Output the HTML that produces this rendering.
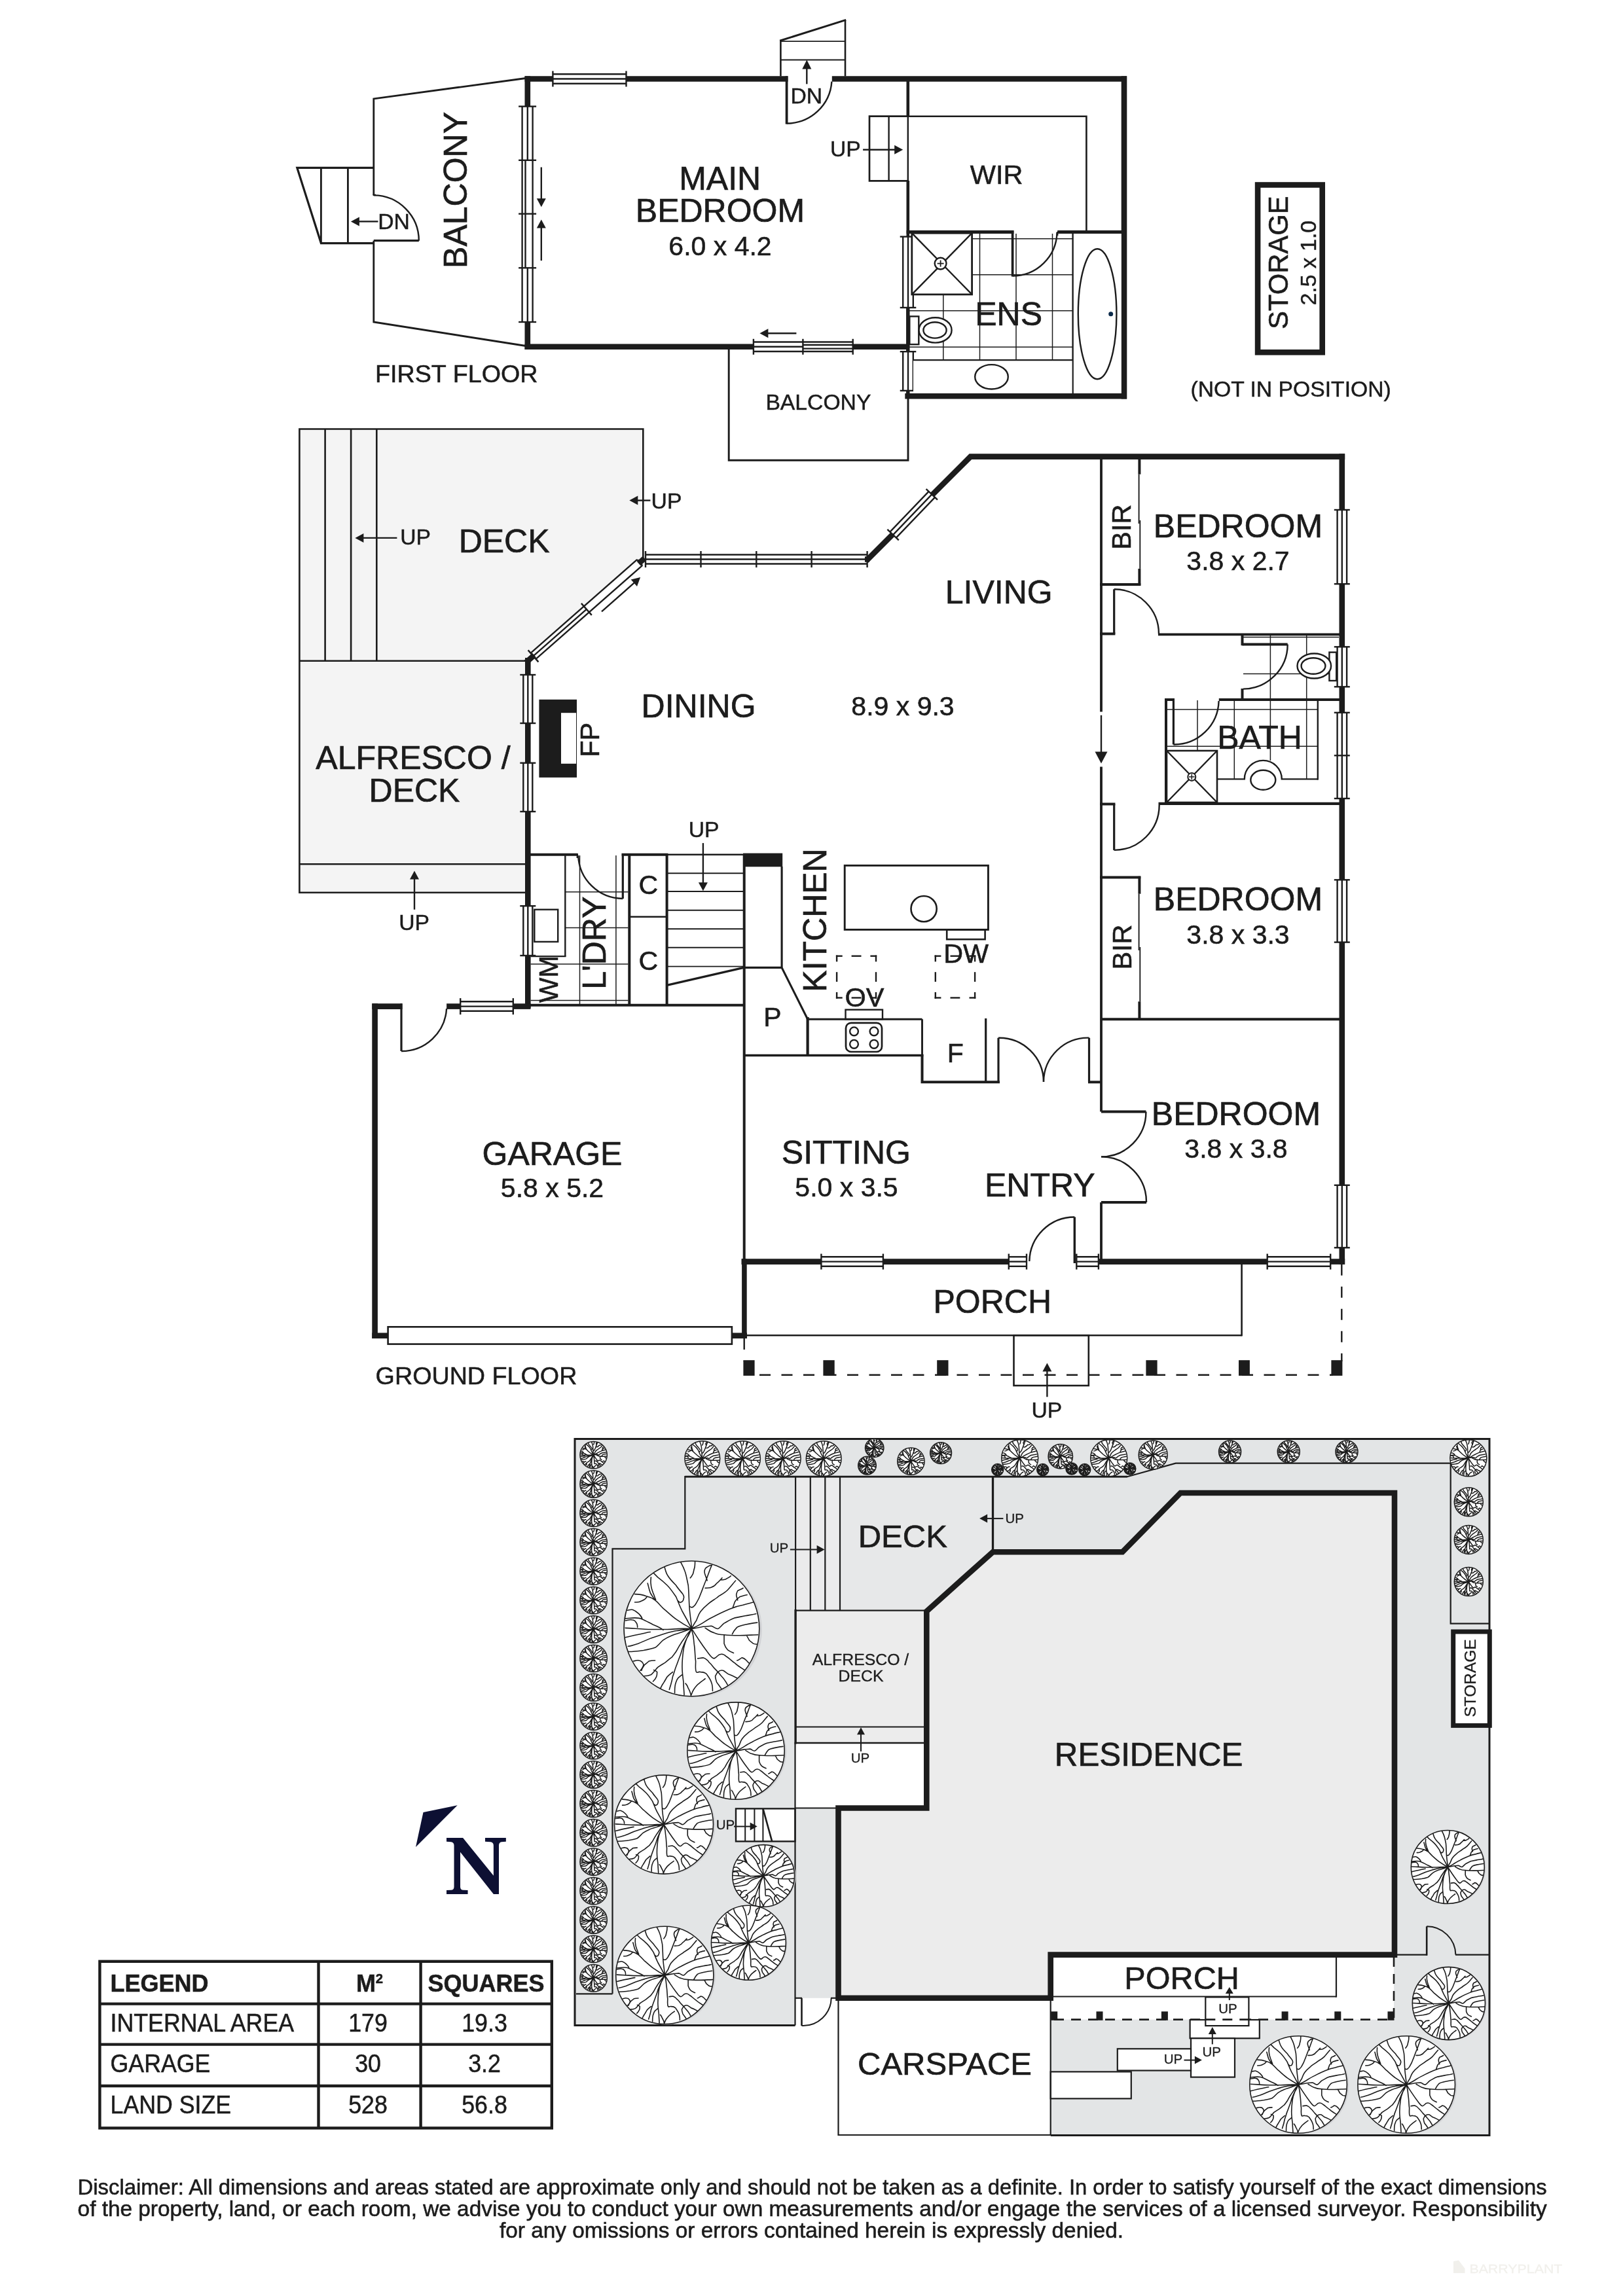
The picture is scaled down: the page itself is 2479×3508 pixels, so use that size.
<!DOCTYPE html>
<html><head><meta charset="utf-8"><title>Floor plan</title>
<style>
html,body{margin:0;padding:0;background:#fff}
svg{display:block}
text{font-family:"Liberation Sans",sans-serif}
</style></head><body>
<svg width="2479" height="3508" viewBox="0 0 2479 3508" stroke="#1c1c1c" fill="none">
<rect width="2479" height="3508" fill="#fff" stroke="none"/>
<defs><g id="tr"><circle cx="4" cy="1.5" r="100" fill="#d2d3d6" stroke="none"/><circle r="100" fill="#fff" stroke-width="1.6" vector-effect="non-scaling-stroke"/><path d="M0,0C-0,-5 -2,-17 -3,-28C-4,-39 -4,-54 -5,-64C-7,-73 -8,-80 -10,-85C-12,-91 -15,-96 -16,-98M-3,-33C-2,-32 -0,-31 2,-32C3,-33 5,-34 7,-38C9,-41 12,-47 14,-53C16,-58 18,-64 21,-71C24,-78 28,-91 30,-94M-2,-75C-1,-76 1,-79 2,-81C3,-84 3,-86 4,-89C5,-92 5,-97 5,-99M0,0C-2,-4 -10,-19 -14,-26C-18,-34 -20,-40 -23,-47C-27,-53 -31,-59 -36,-64C-40,-68 -46,-73 -50,-76C-53,-79 -55,-81 -56,-82M-40,-91C-39,-88 -38,-82 -35,-78C-32,-73 -27,-68 -23,-64C-20,-59 -15,-54 -13,-51C-11,-48 -11,-46 -12,-44C-12,-42 -14,-39 -16,-39C-17,-38 -19,-40 -20,-41M-65,-67C-64,-64 -63,-58 -61,-53C-59,-49 -55,-44 -54,-42M-60,-76C-60,-74 -61,-69 -60,-65C-60,-61 -58,-56 -57,-53C-55,-49 -54,-44 -53,-43M0,0C-4,-2 -16,-9 -23,-14C-30,-19 -37,-26 -42,-30C-47,-35 -50,-39 -54,-42C-58,-45 -62,-47 -67,-48C-72,-50 -81,-51 -84,-51M-84,-39C-83,-39 -78,-39 -76,-40C-74,-41 -71,-42 -70,-43C-68,-44 -67,-46 -66,-47M0,0C-2,0 -8,0 -14,0C-20,0 -28,1 -36,1C-43,1 -50,1 -60,1C-71,1 -91,-1 -98,-1M-42,2C-44,0 -52,-4 -57,-6C-63,-9 -68,-12 -73,-14C-77,-16 -80,-16 -84,-16C-88,-16 -96,-15 -98,-15M-98,-12C-96,-12 -91,-14 -88,-13C-85,-13 -83,-11 -82,-9C-80,-7 -80,-3 -80,-2M-95,-27C-94,-27 -89,-29 -87,-28C-84,-27 -80,-24 -78,-22C-75,-19 -73,-15 -73,-14M0,0C-4,1 -15,2 -22,3C-29,4 -35,6 -42,8C-48,10 -54,12 -60,14C-67,17 -74,20 -79,22C-85,24 -91,26 -94,26M-61,5C-64,5 -70,7 -76,8C-82,9 -94,12 -98,13M0,0C-2,1 -9,3 -14,5C-19,7 -25,8 -29,10C-34,12 -38,14 -42,17C-46,20 -49,25 -54,28C-59,30 -65,31 -71,32C-78,33 -89,34 -93,34M0,0C-1,2 -5,6 -8,10C-10,14 -14,18 -16,22C-19,26 -21,31 -23,34C-25,37 -27,39 -29,42C-32,44 -35,47 -39,50C-42,52 -46,54 -50,57C-53,60 -57,66 -60,68C-64,70 -68,70 -70,70M-86,48C-85,48 -80,46 -78,47C-75,47 -72,50 -71,53C-71,56 -75,61 -76,62M-54,47C-56,47 -60,47 -63,48C-65,50 -68,52 -70,54C-72,57 -74,61 -74,62M-56,61C-55,62 -52,62 -51,64C-51,65 -51,69 -52,71C-53,74 -56,77 -57,78M0,0C-1,2 -4,10 -7,14C-9,18 -10,20 -12,25C-14,29 -15,35 -17,40C-19,45 -21,51 -23,56C-25,61 -26,66 -28,71C-29,77 -32,87 -33,90M0,0C-1,2 -5,9 -7,14C-9,19 -11,24 -12,31C-13,38 -14,48 -14,56C-14,64 -13,72 -12,79C-12,86 -11,95 -11,98M-28,64C-29,65 -33,68 -36,71C-38,74 -40,78 -42,81C-44,83 -45,87 -46,88M-14,68C-15,69 -18,71 -20,73C-22,75 -23,79 -24,82C-25,86 -25,93 -25,95M0,0C0,2 1,5 2,9C3,13 3,18 4,25C5,31 5,42 6,48C6,55 5,61 7,64C8,66 10,63 13,64C15,64 19,64 22,67C24,70 28,75 29,79C31,83 31,90 31,92M9,44C11,44 14,43 17,43C20,44 24,47 26,50C29,52 31,56 34,59C37,62 40,65 43,69C47,73 52,81 53,83M-9,81C-8,82 -6,85 -5,88C-3,91 -1,97 -1,99M20,74C19,75 14,78 11,81C8,83 5,87 3,90C1,93 -0,97 -1,99M0,0C2,3 7,11 11,17C15,23 20,30 23,34C27,39 29,43 33,44C36,44 39,38 42,38C45,37 48,38 51,41C55,43 59,48 64,51C68,55 75,59 78,61M35,70C36,69 37,65 39,64C41,62 44,61 47,62C49,63 51,65 54,67C58,68 65,72 67,73M35,70C35,71 36,76 37,79C39,82 43,87 44,89M67,47C69,47 72,44 74,43C77,43 79,45 81,47C82,48 84,51 85,51M0,0C3,-0 12,-2 17,-3C22,-3 26,-4 29,-4C33,-3 36,1 39,0C42,-1 44,-5 48,-8C52,-10 58,-14 64,-16C69,-17 74,-18 79,-19C84,-20 93,-21 95,-22M20,-1C22,0 28,5 33,6C37,8 42,9 48,9C55,10 63,10 71,10C80,10 93,9 98,9M48,9C48,11 48,18 48,22C49,25 51,29 53,31C55,33 60,35 62,36M60,8C61,6 64,1 67,-2C70,-4 74,-5 79,-6C84,-7 94,-9 97,-9M81,10C82,11 84,15 85,17C87,19 90,21 91,22C93,23 96,23 96,23M0,0C2,-1 9,-4 14,-7C19,-10 26,-15 33,-18C40,-22 49,-26 56,-29C63,-32 70,-34 76,-35C82,-37 88,-38 91,-39M61,-32C62,-33 63,-38 64,-40C66,-43 68,-45 71,-47C74,-48 80,-50 82,-50M76,-60C75,-59 70,-57 68,-56C67,-54 66,-52 66,-50C66,-47 68,-43 68,-42M0,0C1,-2 4,-8 7,-12C9,-17 10,-21 13,-25C16,-29 20,-33 25,-37C29,-41 36,-44 40,-48C45,-51 49,-53 53,-57C57,-61 63,-69 65,-71M20,-60C22,-60 27,-60 29,-61C32,-62 35,-64 37,-67C40,-69 44,-74 45,-75M42,-72C43,-72 47,-72 50,-73C52,-74 57,-77 58,-78M30,-94C29,-94 25,-93 23,-91C21,-90 19,-87 19,-84C19,-80 23,-73 23,-71" stroke-width="1.6" vector-effect="non-scaling-stroke" fill="none" stroke-linecap="round"/></g>
<g id="sh"><circle r="100" fill="#fff" stroke-width="1.5" vector-effect="non-scaling-stroke"/><path d="M0,0C-0,-5 -2,-17 -3,-28C-4,-39 -4,-54 -5,-64C-7,-73 -8,-80 -10,-85C-12,-91 -15,-96 -16,-98M-3,-33C-2,-32 -0,-31 2,-32C3,-33 5,-34 7,-38C9,-41 12,-47 14,-53C16,-58 18,-64 21,-71C24,-78 28,-91 30,-94M-2,-75C-1,-76 1,-79 2,-81C3,-84 3,-86 4,-89C5,-92 5,-97 5,-99M0,0C-2,-4 -10,-19 -14,-26C-18,-34 -20,-40 -23,-47C-27,-53 -31,-59 -36,-64C-40,-68 -46,-73 -50,-76C-53,-79 -55,-81 -56,-82M-40,-91C-39,-88 -38,-82 -35,-78C-32,-73 -27,-68 -23,-64C-20,-59 -15,-54 -13,-51C-11,-48 -11,-46 -12,-44C-12,-42 -14,-39 -16,-39C-17,-38 -19,-40 -20,-41M-65,-67C-64,-64 -63,-58 -61,-53C-59,-49 -55,-44 -54,-42M-60,-76C-60,-74 -61,-69 -60,-65C-60,-61 -58,-56 -57,-53C-55,-49 -54,-44 -53,-43M0,0C-4,-2 -16,-9 -23,-14C-30,-19 -37,-26 -42,-30C-47,-35 -50,-39 -54,-42C-58,-45 -62,-47 -67,-48C-72,-50 -81,-51 -84,-51M-84,-39C-83,-39 -78,-39 -76,-40C-74,-41 -71,-42 -70,-43C-68,-44 -67,-46 -66,-47M0,0C-2,0 -8,0 -14,0C-20,0 -28,1 -36,1C-43,1 -50,1 -60,1C-71,1 -91,-1 -98,-1M-42,2C-44,0 -52,-4 -57,-6C-63,-9 -68,-12 -73,-14C-77,-16 -80,-16 -84,-16C-88,-16 -96,-15 -98,-15M-98,-12C-96,-12 -91,-14 -88,-13C-85,-13 -83,-11 -82,-9C-80,-7 -80,-3 -80,-2M-95,-27C-94,-27 -89,-29 -87,-28C-84,-27 -80,-24 -78,-22C-75,-19 -73,-15 -73,-14M0,0C-4,1 -15,2 -22,3C-29,4 -35,6 -42,8C-48,10 -54,12 -60,14C-67,17 -74,20 -79,22C-85,24 -91,26 -94,26M-61,5C-64,5 -70,7 -76,8C-82,9 -94,12 -98,13M0,0C-2,1 -9,3 -14,5C-19,7 -25,8 -29,10C-34,12 -38,14 -42,17C-46,20 -49,25 -54,28C-59,30 -65,31 -71,32C-78,33 -89,34 -93,34M0,0C-1,2 -5,6 -8,10C-10,14 -14,18 -16,22C-19,26 -21,31 -23,34C-25,37 -27,39 -29,42C-32,44 -35,47 -39,50C-42,52 -46,54 -50,57C-53,60 -57,66 -60,68C-64,70 -68,70 -70,70M-86,48C-85,48 -80,46 -78,47C-75,47 -72,50 -71,53C-71,56 -75,61 -76,62M-54,47C-56,47 -60,47 -63,48C-65,50 -68,52 -70,54C-72,57 -74,61 -74,62M-56,61C-55,62 -52,62 -51,64C-51,65 -51,69 -52,71C-53,74 -56,77 -57,78M0,0C-1,2 -4,10 -7,14C-9,18 -10,20 -12,25C-14,29 -15,35 -17,40C-19,45 -21,51 -23,56C-25,61 -26,66 -28,71C-29,77 -32,87 -33,90M0,0C-1,2 -5,9 -7,14C-9,19 -11,24 -12,31C-13,38 -14,48 -14,56C-14,64 -13,72 -12,79C-12,86 -11,95 -11,98M-28,64C-29,65 -33,68 -36,71C-38,74 -40,78 -42,81C-44,83 -45,87 -46,88M-14,68C-15,69 -18,71 -20,73C-22,75 -23,79 -24,82C-25,86 -25,93 -25,95M0,0C0,2 1,5 2,9C3,13 3,18 4,25C5,31 5,42 6,48C6,55 5,61 7,64C8,66 10,63 13,64C15,64 19,64 22,67C24,70 28,75 29,79C31,83 31,90 31,92M9,44C11,44 14,43 17,43C20,44 24,47 26,50C29,52 31,56 34,59C37,62 40,65 43,69C47,73 52,81 53,83M-9,81C-8,82 -6,85 -5,88C-3,91 -1,97 -1,99M20,74C19,75 14,78 11,81C8,83 5,87 3,90C1,93 -0,97 -1,99M0,0C2,3 7,11 11,17C15,23 20,30 23,34C27,39 29,43 33,44C36,44 39,38 42,38C45,37 48,38 51,41C55,43 59,48 64,51C68,55 75,59 78,61M35,70C36,69 37,65 39,64C41,62 44,61 47,62C49,63 51,65 54,67C58,68 65,72 67,73M35,70C35,71 36,76 37,79C39,82 43,87 44,89M67,47C69,47 72,44 74,43C77,43 79,45 81,47C82,48 84,51 85,51M0,0C3,-0 12,-2 17,-3C22,-3 26,-4 29,-4C33,-3 36,1 39,0C42,-1 44,-5 48,-8C52,-10 58,-14 64,-16C69,-17 74,-18 79,-19C84,-20 93,-21 95,-22M20,-1C22,0 28,5 33,6C37,8 42,9 48,9C55,10 63,10 71,10C80,10 93,9 98,9M48,9C48,11 48,18 48,22C49,25 51,29 53,31C55,33 60,35 62,36M60,8C61,6 64,1 67,-2C70,-4 74,-5 79,-6C84,-7 94,-9 97,-9M81,10C82,11 84,15 85,17C87,19 90,21 91,22C93,23 96,23 96,23M0,0C2,-1 9,-4 14,-7C19,-10 26,-15 33,-18C40,-22 49,-26 56,-29C63,-32 70,-34 76,-35C82,-37 88,-38 91,-39M61,-32C62,-33 63,-38 64,-40C66,-43 68,-45 71,-47C74,-48 80,-50 82,-50M76,-60C75,-59 70,-57 68,-56C67,-54 66,-52 66,-50C66,-47 68,-43 68,-42M0,0C1,-2 4,-8 7,-12C9,-17 10,-21 13,-25C16,-29 20,-33 25,-37C29,-41 36,-44 40,-48C45,-51 49,-53 53,-57C57,-61 63,-69 65,-71M20,-60C22,-60 27,-60 29,-61C32,-62 35,-64 37,-67C40,-69 44,-74 45,-75M42,-72C43,-72 47,-72 50,-73C52,-74 57,-77 58,-78M30,-94C29,-94 25,-93 23,-91C21,-90 19,-87 19,-84C19,-80 23,-73 23,-71" stroke-width="1.5" vector-effect="non-scaling-stroke" fill="none"/></g></defs>
<filter id="nf" x="0" y="0" width="2479" height="3508" filterUnits="userSpaceOnUse" color-interpolation-filters="sRGB"><feOffset dx="0" dy="0"/></filter>
<g filter="url(#nf)">
<g id="first">
<path d="M803,119.5 L570.8,150.9 L570.8,297.9" stroke-width="2.8" fill="none" stroke-linejoin="miter"/>
<path d="M570.8,367.7 L570.8,492 L803,528.5" stroke-width="2.8" fill="none" stroke-linejoin="miter"/>
<path d="M570.8,256.3 L453.8,256.3 L490.4,371.6 L570.8,371.6" stroke-width="3.2" fill="none" stroke-linejoin="miter"/>
<line x1="490.4" y1="256.3" x2="490.4" y2="371.6" stroke-width="2.8"/>
<line x1="531.4" y1="256.3" x2="531.4" y2="371.6" stroke-width="2.8"/>
<line x1="570.8" y1="367.7" x2="639.8" y2="367.7" stroke-width="3.2"/>
<path d="M570.8,298.4 A69.3,69.3 0 0 1 639.8,367.7" stroke-width="2.4" fill="none"/>
<line x1="569.6" y1="297.9" x2="574" y2="297.9" stroke-width="2.4"/>
<line x1="577.5" y1="338.4" x2="547.9" y2="338.4" stroke-width="2.4"/>
<path d="M535.9,338.4 L548.9,331.4 L548.9,345.4 Z" fill="#1c1c1c" stroke="none"/>
<text x="601.6" y="349.6" font-size="33.7" text-anchor="middle" style="fill:#1c1c1c;stroke:#1c1c1c;stroke-width:0.47px">DN</text>
<text x="713.3" y="290.4" font-size="50" text-anchor="middle" transform="rotate(-90 713.3 290.4)" style="fill:#1c1c1c;stroke:#1c1c1c;stroke-width:0.70px">BALCONY</text>
<line x1="801.6" y1="120.5" x2="844.4" y2="120.5" stroke-width="8.6"/>
<line x1="956.5" y1="120.5" x2="1203.5" y2="120.5" stroke-width="8.6"/>
<line x1="1270.8" y1="120.5" x2="1721" y2="120.5" stroke-width="8.6"/>
<rect x="844.4" y="113.2" width="112.1" height="14.5" fill="#fff" stroke="none"/>
<line x1="844.4" y1="113.2" x2="956.5" y2="113.2" stroke-width="2.4"/>
<line x1="844.4" y1="127.8" x2="956.5" y2="127.8" stroke-width="2.4"/>
<line x1="844.4" y1="120.5" x2="956.5" y2="120.5" stroke-width="2.4"/>
<line x1="844.4" y1="108.5" x2="844.4" y2="132.5" stroke-width="2.4"/>
<line x1="956.5" y1="108.5" x2="956.5" y2="132.5" stroke-width="2.4"/>
<line x1="805.8" y1="116.3" x2="805.8" y2="162.6" stroke-width="8.6"/>
<line x1="805.8" y1="492" x2="805.8" y2="534" stroke-width="8.6"/>
<rect x="797.6" y="162.6" width="16" height="329.4" fill="#fff" stroke="none"/>
<line x1="797.6" y1="162.6" x2="797.6" y2="492" stroke-width="2.4"/>
<line x1="813.6" y1="162.6" x2="813.6" y2="492" stroke-width="2.4"/>
<line x1="792.1" y1="162.6" x2="819.1" y2="162.6" stroke-width="2.4"/>
<line x1="792.1" y1="244.8" x2="819.1" y2="244.8" stroke-width="2.4"/>
<line x1="792.1" y1="326.7" x2="819.1" y2="326.7" stroke-width="2.4"/>
<line x1="792.1" y1="409.3" x2="819.1" y2="409.3" stroke-width="2.4"/>
<line x1="792.1" y1="492" x2="819.1" y2="492" stroke-width="2.4"/>
<line x1="805.8" y1="162.6" x2="805.8" y2="244.8" stroke-width="2.4"/>
<line x1="805.8" y1="409.3" x2="805.8" y2="492" stroke-width="2.4"/>
<line x1="802.5" y1="244.8" x2="802.5" y2="409.3" stroke-width="2.4"/>
<line x1="826.8" y1="255.5" x2="826.8" y2="304.2" stroke-width="2.4"/>
<path d="M826.8,316.2 L819.8,303.2 L833.8,303.2 Z" fill="#1c1c1c" stroke="none"/>
<line x1="826.8" y1="398.2" x2="826.8" y2="347.6" stroke-width="2.4"/>
<path d="M826.8,335.6 L833.8,348.6 L819.8,348.6 Z" fill="#1c1c1c" stroke="none"/>
<line x1="801.6" y1="529.8" x2="1150.9" y2="529.8" stroke-width="8.6"/>
<line x1="1302.7" y1="529.8" x2="1389" y2="529.8" stroke-width="8.6"/>
<rect x="1150.9" y="522.5" width="151.8" height="14.5" fill="#fff" stroke="none"/>
<line x1="1150.9" y1="522.5" x2="1302.7" y2="522.5" stroke-width="2.4"/>
<line x1="1150.9" y1="537" x2="1302.7" y2="537" stroke-width="2.4"/>
<line x1="1150.9" y1="517.8" x2="1150.9" y2="541.8" stroke-width="2.4"/>
<line x1="1226.4" y1="517.8" x2="1226.4" y2="541.8" stroke-width="2.4"/>
<line x1="1302.7" y1="517.8" x2="1302.7" y2="541.8" stroke-width="2.4"/>
<line x1="1150.9" y1="529.8" x2="1226.4" y2="529.8" stroke-width="2.4"/>
<line x1="1226.4" y1="527" x2="1302.7" y2="527" stroke-width="2.4"/>
<line x1="1226.4" y1="532.6" x2="1302.7" y2="532.6" stroke-width="2.4"/>
<line x1="1216.4" y1="509.3" x2="1172.4" y2="509.3" stroke-width="2.4"/>
<path d="M1160.4,509.3 L1173.4,502.3 L1173.4,516.3 Z" fill="#1c1c1c" stroke="none"/>
<line x1="1717" y1="116.3" x2="1717" y2="609.6" stroke-width="8.6"/>
<line x1="1382.3" y1="605.3" x2="1721" y2="605.3" stroke-width="8.6"/>
<line x1="1386.8" y1="124" x2="1386.8" y2="178" stroke-width="4.6"/>
<line x1="1386.8" y1="177" x2="1386.8" y2="277" stroke-width="2.4"/>
<line x1="1386.8" y1="276" x2="1386.8" y2="361.6" stroke-width="4.6"/>
<line x1="1386.8" y1="470" x2="1386.8" y2="537.2" stroke-width="5.5"/>
<line x1="1386.8" y1="596.9" x2="1386.8" y2="609" stroke-width="5.5"/>
<rect x="1379.2" y="361.6" width="15.5" height="108.4" fill="#fff" stroke="none"/>
<line x1="1379.2" y1="361.6" x2="1379.2" y2="470" stroke-width="2.4"/>
<line x1="1394.8" y1="361.6" x2="1394.8" y2="470" stroke-width="2.4"/>
<line x1="1387" y1="361.6" x2="1387" y2="470" stroke-width="2.4"/>
<line x1="1374.7" y1="361.6" x2="1399.3" y2="361.6" stroke-width="2.4"/>
<line x1="1374.7" y1="470" x2="1399.3" y2="470" stroke-width="2.4"/>
<rect x="1379.2" y="537.2" width="15.5" height="59.7" fill="#fff" stroke="none"/>
<line x1="1379.2" y1="537.2" x2="1379.2" y2="596.9" stroke-width="2.4"/>
<line x1="1394.8" y1="537.2" x2="1394.8" y2="596.9" stroke-width="2.4"/>
<line x1="1387" y1="537.2" x2="1387" y2="596.9" stroke-width="2.4"/>
<line x1="1374.7" y1="537.2" x2="1399.3" y2="537.2" stroke-width="2.4"/>
<line x1="1374.7" y1="596.9" x2="1399.3" y2="596.9" stroke-width="2.4"/>
<line x1="1192.4" y1="62" x2="1192.4" y2="116.5" stroke-width="2.6"/>
<line x1="1291" y1="31" x2="1291" y2="116.5" stroke-width="2.6"/>
<line x1="1191.2" y1="62.3" x2="1292.2" y2="30.4" stroke-width="3"/>
<line x1="1192.4" y1="63.1" x2="1291" y2="63.1" stroke-width="1.9"/>
<line x1="1192.4" y1="91.5" x2="1291" y2="91.5" stroke-width="1.9"/>
<line x1="1201.6" y1="116.3" x2="1201.6" y2="189.6" stroke-width="3.8"/>
<path d="M1201.6,188.5 A68.5,68.5 0 0 0 1270.4,124.7" stroke-width="2.4" fill="none"/>
<line x1="1232.3" y1="128.4" x2="1232.3" y2="104.5" stroke-width="2.4"/>
<path d="M1232.3,91.5 L1239.3,105.5 L1225.3,105.5 Z" fill="#1c1c1c" stroke="none"/>
<text x="1231.8" y="157.6" font-size="33.7" text-anchor="middle" style="fill:#1c1c1c;stroke:#1c1c1c;stroke-width:0.47px">DN</text>
<path d="M1386.8,177.7 L1328,177.7 L1328,276.3 L1386.8,276.3" stroke-width="2.7" fill="none" stroke-linejoin="miter"/>
<line x1="1357.6" y1="177.7" x2="1357.6" y2="276.3" stroke-width="2.4"/>
<text x="1291.4" y="239.3" font-size="33.7" text-anchor="middle" style="fill:#1c1c1c;stroke:#1c1c1c;stroke-width:0.47px">UP</text>
<line x1="1318.1" y1="228.7" x2="1367.2" y2="228.7" stroke-width="2.4"/>
<path d="M1379.2,228.7 L1366.2,235.7 L1366.2,221.7 Z" fill="#1c1c1c" stroke="none"/>
<path d="M1386.8,177.7 L1659.4,177.7 L1659.4,353" stroke-width="2.6" fill="none" stroke-linejoin="miter"/>
<text x="1522.2" y="280.7" font-size="41.5" text-anchor="middle" style="fill:#1c1c1c;stroke:#1c1c1c;stroke-width:0.58px">WIR</text>
<line x1="1384.6" y1="354.6" x2="1548.4" y2="354.6" stroke-width="5"/>
<line x1="1615.2" y1="354.6" x2="1713.5" y2="354.6" stroke-width="5"/>
<line x1="1546.6" y1="352.2" x2="1546.6" y2="422.5" stroke-width="3.7"/>
<path d="M1546.6,421.5 A67.9,67.9 0 0 0 1614.5,355" stroke-width="2.4" fill="none"/>
<line x1="1615.2" y1="354" x2="1615.2" y2="360" stroke-width="2.4"/>
<line x1="1440.8" y1="449.9" x2="1440.8" y2="550.1" stroke-width="1.5"/>
<line x1="1496.5" y1="357" x2="1496.5" y2="550.1" stroke-width="1.5"/>
<line x1="1552" y1="357" x2="1552" y2="550.1" stroke-width="1.5"/>
<line x1="1607.5" y1="357" x2="1607.5" y2="550.1" stroke-width="1.5"/>
<line x1="1484.6" y1="364.7" x2="1638.6" y2="364.7" stroke-width="1.5"/>
<line x1="1484.6" y1="419.7" x2="1638.6" y2="419.7" stroke-width="1.5"/>
<line x1="1389" y1="474.7" x2="1638.6" y2="474.7" stroke-width="1.5"/>
<line x1="1389" y1="530.2" x2="1638.6" y2="530.2" stroke-width="1.5"/>
<rect x="1392.8" y="356.2" width="91.8" height="93.7" stroke-width="2.8" fill="#fff"/>
<line x1="1392.8" y1="356.2" x2="1484.6" y2="449.9" stroke-width="2.4"/>
<line x1="1392.8" y1="449.9" x2="1484.6" y2="356.2" stroke-width="2.4"/>
<circle cx="1436.6" cy="402.6" r="8.9" stroke-width="2.4" fill="#fff"/>
<line x1="1431.6" y1="402.6" x2="1441.6" y2="402.6" stroke-width="1.8"/>
<line x1="1436.6" y1="397.6" x2="1436.6" y2="407.6" stroke-width="1.8"/>
<line x1="1638.6" y1="357" x2="1638.6" y2="601" stroke-width="2.4"/>
<rect x="1640" y="357.5" width="72.5" height="243.5" fill="#fff" stroke="none"/>
<ellipse cx="1676.1" cy="479.8" rx="29.3" ry="99.5" stroke-width="2.4" fill="#fff"/>
<circle cx="1696.7" cy="479.8" r="3.5" fill="#0b2a4a" stroke="none"/>
<rect x="1395" y="551" width="242.4" height="50" fill="#fff" stroke="none"/>
<line x1="1394.7" y1="550.1" x2="1638.6" y2="550.1" stroke-width="2.4"/>
<ellipse cx="1514.5" cy="575.8" rx="25.3" ry="18.7" stroke-width="2.4" fill="#fff"/>
<rect x="1389.3" y="483.4" width="14" height="42.8" stroke-width="2.4" fill="#fff"/>
<ellipse cx="1428.6" cy="504.4" rx="25" ry="19.2" stroke-width="2.4" fill="#fff"/>
<ellipse cx="1428" cy="504.4" rx="17.6" ry="12.2" stroke-width="2.4" fill="#fff"/>
<text x="1540.6" y="496.7" font-size="50" text-anchor="middle" style="fill:#1c1c1c;stroke:#1c1c1c;stroke-width:0.70px">ENS</text>
<path d="M1113.2,534 L1113.2,703.3 L1387,703.3 L1387,609" stroke-width="2.9" fill="none" stroke-linejoin="miter"/>
<text x="1249.9" y="625.8" font-size="33.7" text-anchor="middle" style="fill:#1c1c1c;stroke:#1c1c1c;stroke-width:0.47px">BALCONY</text>
<text x="573" y="584" font-size="37.7" style="fill:#1c1c1c;stroke:#1c1c1c;stroke-width:0.53px">FIRST FLOOR</text>
<text x="1099.7" y="289.9" font-size="50" text-anchor="middle" style="fill:#1c1c1c;stroke:#1c1c1c;stroke-width:0.70px">MAIN</text>
<text x="1100" y="339.2" font-size="50" text-anchor="middle" style="fill:#1c1c1c;stroke:#1c1c1c;stroke-width:0.70px">BEDROOM</text>
<text x="1100" y="389.7" font-size="41" text-anchor="middle" style="fill:#1c1c1c;stroke:#1c1c1c;stroke-width:0.57px">6.0 x 4.2</text>
<rect x="1921.1" y="282.5" width="98.6" height="255.8" stroke-width="8.6" fill="#fff"/>
<text x="1967.3" y="401.2" font-size="41.8" text-anchor="middle" transform="rotate(-90 1967.3 401.2)" style="fill:#1c1c1c;stroke:#1c1c1c;stroke-width:0.59px">STORAGE</text>
<text x="2009.7" y="401.7" font-size="33.8" text-anchor="middle" transform="rotate(-90 2009.7 401.7)" style="fill:#1c1c1c;stroke:#1c1c1c;stroke-width:0.47px">2.5 x 1.0</text>
<text x="1971.6" y="606" font-size="33.7" text-anchor="middle" style="fill:#1c1c1c;stroke:#1c1c1c;stroke-width:0.47px">(NOT IN POSITION)</text>
</g>
<g id="ground">
<path d="M457.4,655.5 L982.3,655.5 L982.3,852.6 L806,1009.7 L806,1363.8 L457.4,1363.8 Z" stroke-width="2.6" fill="#f4f4f4" stroke-linejoin="miter"/>
<line x1="496.6" y1="655.5" x2="496.6" y2="1009.7" stroke-width="2.6"/>
<line x1="536.1" y1="655.5" x2="536.1" y2="1009.7" stroke-width="2.6"/>
<line x1="575.3" y1="655.5" x2="575.3" y2="1009.7" stroke-width="2.6"/>
<line x1="457.4" y1="1009.7" x2="806" y2="1009.7" stroke-width="2.6"/>
<line x1="457.4" y1="1320.2" x2="806" y2="1320.2" stroke-width="2.6"/>
<text x="770.1" y="844.4" font-size="50" text-anchor="middle" style="fill:#1c1c1c;stroke:#1c1c1c;stroke-width:0.70px">DECK</text>
<text x="634.6" y="832" font-size="33.7" text-anchor="middle" style="fill:#1c1c1c;stroke:#1c1c1c;stroke-width:0.47px">UP</text>
<line x1="606.4" y1="821.9" x2="554.4" y2="821.9" stroke-width="2.4"/>
<path d="M542.4,821.9 L555.4,814.9 L555.4,828.9 Z" fill="#1c1c1c" stroke="none"/>
<text x="1018" y="776.5" font-size="33.7" text-anchor="middle" style="fill:#1c1c1c;stroke:#1c1c1c;stroke-width:0.47px">UP</text>
<line x1="993.4" y1="764.6" x2="973.3" y2="764.6" stroke-width="2.4"/>
<path d="M961.3,764.6 L974.3,757.6 L974.3,771.6 Z" fill="#1c1c1c" stroke="none"/>
<text x="631" y="1175.3" font-size="50" text-anchor="middle" style="fill:#1c1c1c;stroke:#1c1c1c;stroke-width:0.70px">ALFRESCO /</text>
<text x="633" y="1225.2" font-size="50" text-anchor="middle" style="fill:#1c1c1c;stroke:#1c1c1c;stroke-width:0.70px">DECK</text>
<text x="632.6" y="1421.1" font-size="33.7" text-anchor="middle" style="fill:#1c1c1c;stroke:#1c1c1c;stroke-width:0.47px">UP</text>
<line x1="633" y1="1389.7" x2="633" y2="1342.6" stroke-width="2.4"/>
<path d="M633,1330.6 L640,1343.6 L626,1343.6 Z" fill="#1c1c1c" stroke="none"/>
<line x1="806.3" y1="1005" x2="806.3" y2="1031" stroke-width="8.6"/>
<line x1="806.3" y1="1105" x2="806.3" y2="1165.7" stroke-width="8.6"/>
<line x1="806.3" y1="1240" x2="806.3" y2="1384.2" stroke-width="8.6"/>
<line x1="806.3" y1="1460" x2="806.3" y2="1540" stroke-width="8.6"/>
<rect x="799.3" y="1031" width="14" height="74" fill="#fff" stroke="none"/>
<line x1="799.3" y1="1031" x2="799.3" y2="1105" stroke-width="2.4"/>
<line x1="813.3" y1="1031" x2="813.3" y2="1105" stroke-width="2.4"/>
<line x1="806.3" y1="1031" x2="806.3" y2="1105" stroke-width="2.4"/>
<line x1="794.3" y1="1031" x2="818.3" y2="1031" stroke-width="2.4"/>
<line x1="794.3" y1="1105" x2="818.3" y2="1105" stroke-width="2.4"/>
<rect x="799.3" y="1165.7" width="14" height="74.3" fill="#fff" stroke="none"/>
<line x1="799.3" y1="1165.7" x2="799.3" y2="1240" stroke-width="2.4"/>
<line x1="813.3" y1="1165.7" x2="813.3" y2="1240" stroke-width="2.4"/>
<line x1="806.3" y1="1165.7" x2="806.3" y2="1240" stroke-width="2.4"/>
<line x1="794.3" y1="1165.7" x2="818.3" y2="1165.7" stroke-width="2.4"/>
<line x1="794.3" y1="1240" x2="818.3" y2="1240" stroke-width="2.4"/>
<rect x="799.3" y="1384.2" width="14" height="75.8" fill="#fff" stroke="none"/>
<line x1="799.3" y1="1384.2" x2="799.3" y2="1460" stroke-width="2.4"/>
<line x1="813.3" y1="1384.2" x2="813.3" y2="1460" stroke-width="2.4"/>
<line x1="806.3" y1="1384.2" x2="806.3" y2="1460" stroke-width="2.4"/>
<line x1="794.3" y1="1384.2" x2="818.3" y2="1384.2" stroke-width="2.4"/>
<line x1="794.3" y1="1460" x2="818.3" y2="1460" stroke-width="2.4"/>
<path d="M818.5,1006.9 L981.2,863.9 L973.2,854.9 L810.5,997.9 Z" fill="#fff" stroke="none"/>
<line x1="818.5" y1="1006.9" x2="981.2" y2="863.9" stroke-width="2.4"/>
<line x1="810.5" y1="997.9" x2="973.2" y2="854.9" stroke-width="2.4"/>
<line x1="822.4" y1="1011.4" x2="806.6" y2="993.4" stroke-width="2.4"/>
<line x1="903.8" y1="939.9" x2="887.9" y2="921.9" stroke-width="2.4"/>
<line x1="973.3" y1="855" x2="981.2" y2="864" stroke-width="2.4"/>
<line x1="814.5" y1="1002.4" x2="895.3" y2="931.4" stroke-width="2.4"/>
<line x1="803" y1="1012.5" x2="816" y2="1001" stroke-width="8.6"/>
<line x1="975.5" y1="861" x2="984.5" y2="853" stroke-width="8.6"/>
<line x1="919" y1="934.4" x2="969.1" y2="890.1" stroke-width="2.4"/>
<path d="M978.1,882.1 L973,896 L963.7,885.5 Z" fill="#1c1c1c" stroke="none"/>
<rect x="986" y="847.5" width="338.6" height="14" fill="#fff" stroke="none"/>
<line x1="986" y1="847.5" x2="1324.6" y2="847.5" stroke-width="2.4"/>
<line x1="986" y1="861.5" x2="1324.6" y2="861.5" stroke-width="2.4"/>
<line x1="986" y1="854.5" x2="1324.6" y2="854.5" stroke-width="2.4"/>
<line x1="986" y1="842" x2="986" y2="867" stroke-width="2.4"/>
<line x1="1070.5" y1="842" x2="1070.5" y2="867" stroke-width="2.4"/>
<line x1="1155.3" y1="842" x2="1155.3" y2="867" stroke-width="2.4"/>
<line x1="1239.6" y1="842" x2="1239.6" y2="867" stroke-width="2.4"/>
<line x1="1324.6" y1="842" x2="1324.6" y2="867" stroke-width="2.4"/>
<path d="M1323,857 L1482.4,697.6 L2054.2,697.6" stroke-width="8.6" fill="none" stroke-linejoin="miter"/>
<line x1="1321" y1="854.5" x2="1328" y2="854.5" stroke-width="8.6"/>
<path d="M1368.8,821.6 L1428,759.9 L1418.6,750.9 L1359.4,812.6 Z" fill="#fff" stroke="none"/>
<line x1="1368.8" y1="821.6" x2="1428" y2="759.9" stroke-width="2.4"/>
<line x1="1359.4" y1="812.6" x2="1418.6" y2="750.9" stroke-width="2.4"/>
<line x1="1364.1" y1="817.1" x2="1423.3" y2="755.4" stroke-width="2.4"/>
<line x1="1372.8" y1="825.4" x2="1355.4" y2="808.8" stroke-width="2.4"/>
<line x1="1432" y1="763.7" x2="1414.6" y2="747.1" stroke-width="2.4"/>
<line x1="2049.8" y1="693.3" x2="2049.8" y2="779" stroke-width="8.6"/>
<line x1="2049.8" y1="892.2" x2="2049.8" y2="988.3" stroke-width="8.6"/>
<line x1="2049.8" y1="1049.3" x2="2049.8" y2="1088.8" stroke-width="8.6"/>
<line x1="2049.8" y1="1220" x2="2049.8" y2="1344.3" stroke-width="8.6"/>
<line x1="2049.8" y1="1439.6" x2="2049.8" y2="1810.8" stroke-width="8.6"/>
<line x1="2049.8" y1="1906.3" x2="2049.8" y2="1931.8" stroke-width="8.6"/>
<rect x="2042.6" y="779" width="14.5" height="113.2" fill="#fff" stroke="none"/>
<line x1="2042.6" y1="779" x2="2042.6" y2="892.2" stroke-width="2.4"/>
<line x1="2057.1" y1="779" x2="2057.1" y2="892.2" stroke-width="2.4"/>
<line x1="2049.8" y1="779" x2="2049.8" y2="892.2" stroke-width="2.4"/>
<line x1="2037.8" y1="779" x2="2061.8" y2="779" stroke-width="2.4"/>
<line x1="2037.8" y1="892.2" x2="2061.8" y2="892.2" stroke-width="2.4"/>
<rect x="2042.6" y="988.3" width="14.5" height="61" fill="#fff" stroke="none"/>
<line x1="2042.6" y1="988.3" x2="2042.6" y2="1049.3" stroke-width="2.4"/>
<line x1="2057.1" y1="988.3" x2="2057.1" y2="1049.3" stroke-width="2.4"/>
<line x1="2049.8" y1="988.3" x2="2049.8" y2="1049.3" stroke-width="2.4"/>
<line x1="2037.8" y1="988.3" x2="2061.8" y2="988.3" stroke-width="2.4"/>
<line x1="2037.8" y1="1049.3" x2="2061.8" y2="1049.3" stroke-width="2.4"/>
<rect x="2042.6" y="1088.8" width="14.5" height="131.2" fill="#fff" stroke="none"/>
<line x1="2042.6" y1="1088.8" x2="2042.6" y2="1220" stroke-width="2.4"/>
<line x1="2057.1" y1="1088.8" x2="2057.1" y2="1220" stroke-width="2.4"/>
<line x1="2049.8" y1="1088.8" x2="2049.8" y2="1220" stroke-width="2.4"/>
<line x1="2037.8" y1="1088.8" x2="2061.8" y2="1088.8" stroke-width="2.4"/>
<line x1="2037.8" y1="1154.3" x2="2061.8" y2="1154.3" stroke-width="2.4"/>
<line x1="2037.8" y1="1220" x2="2061.8" y2="1220" stroke-width="2.4"/>
<rect x="2042.6" y="1344.3" width="14.5" height="95.3" fill="#fff" stroke="none"/>
<line x1="2042.6" y1="1344.3" x2="2042.6" y2="1439.6" stroke-width="2.4"/>
<line x1="2057.1" y1="1344.3" x2="2057.1" y2="1439.6" stroke-width="2.4"/>
<line x1="2049.8" y1="1344.3" x2="2049.8" y2="1439.6" stroke-width="2.4"/>
<line x1="2037.8" y1="1344.3" x2="2061.8" y2="1344.3" stroke-width="2.4"/>
<line x1="2037.8" y1="1439.6" x2="2061.8" y2="1439.6" stroke-width="2.4"/>
<rect x="2042.6" y="1810.8" width="14.5" height="95.5" fill="#fff" stroke="none"/>
<line x1="2042.6" y1="1810.8" x2="2042.6" y2="1906.3" stroke-width="2.4"/>
<line x1="2057.1" y1="1810.8" x2="2057.1" y2="1906.3" stroke-width="2.4"/>
<line x1="2049.8" y1="1810.8" x2="2049.8" y2="1906.3" stroke-width="2.4"/>
<line x1="2037.8" y1="1810.8" x2="2061.8" y2="1810.8" stroke-width="2.4"/>
<line x1="2037.8" y1="1906.3" x2="2061.8" y2="1906.3" stroke-width="2.4"/>
<line x1="1132.5" y1="1927.6" x2="1254.4" y2="1927.6" stroke-width="8.6"/>
<line x1="1348.9" y1="1927.6" x2="1540.8" y2="1927.6" stroke-width="8.6"/>
<line x1="1677.9" y1="1927.6" x2="1935.7" y2="1927.6" stroke-width="8.6"/>
<line x1="2032.2" y1="1927.6" x2="2054.2" y2="1927.6" stroke-width="8.6"/>
<rect x="1254.4" y="1920.3" width="94.5" height="14.5" fill="#fff" stroke="none"/>
<line x1="1254.4" y1="1920.3" x2="1348.9" y2="1920.3" stroke-width="2.4"/>
<line x1="1254.4" y1="1934.8" x2="1348.9" y2="1934.8" stroke-width="2.4"/>
<line x1="1254.4" y1="1927.6" x2="1348.9" y2="1927.6" stroke-width="2.4"/>
<line x1="1254.4" y1="1915.6" x2="1254.4" y2="1939.6" stroke-width="2.4"/>
<line x1="1348.9" y1="1915.6" x2="1348.9" y2="1939.6" stroke-width="2.4"/>
<rect x="1935.7" y="1920.3" width="96.5" height="14.5" fill="#fff" stroke="none"/>
<line x1="1935.7" y1="1920.3" x2="2032.2" y2="1920.3" stroke-width="2.4"/>
<line x1="1935.7" y1="1934.8" x2="2032.2" y2="1934.8" stroke-width="2.4"/>
<line x1="1935.7" y1="1927.6" x2="2032.2" y2="1927.6" stroke-width="2.4"/>
<line x1="1935.7" y1="1915.6" x2="1935.7" y2="1939.6" stroke-width="2.4"/>
<line x1="2032.2" y1="1915.6" x2="2032.2" y2="1939.6" stroke-width="2.4"/>
<rect x="1540.8" y="1920.3" width="27.2" height="14.5" fill="#fff" stroke="none"/>
<line x1="1540.8" y1="1920.3" x2="1568" y2="1920.3" stroke-width="2.4"/>
<line x1="1540.8" y1="1934.8" x2="1568" y2="1934.8" stroke-width="2.4"/>
<line x1="1540.8" y1="1927.6" x2="1568" y2="1927.6" stroke-width="2.4"/>
<line x1="1540.8" y1="1915.6" x2="1540.8" y2="1939.6" stroke-width="2.4"/>
<line x1="1568" y1="1915.6" x2="1568" y2="1939.6" stroke-width="2.4"/>
<rect x="1644.3" y="1920.3" width="33.6" height="14.5" fill="#fff" stroke="none"/>
<line x1="1644.3" y1="1920.3" x2="1677.9" y2="1920.3" stroke-width="2.4"/>
<line x1="1644.3" y1="1934.8" x2="1677.9" y2="1934.8" stroke-width="2.4"/>
<line x1="1644.3" y1="1927.6" x2="1677.9" y2="1927.6" stroke-width="2.4"/>
<line x1="1644.3" y1="1915.6" x2="1644.3" y2="1939.6" stroke-width="2.4"/>
<line x1="1677.9" y1="1915.6" x2="1677.9" y2="1939.6" stroke-width="2.4"/>
<line x1="1641.3" y1="1859.5" x2="1641.3" y2="1930" stroke-width="3.4"/>
<path d="M1641.3,1859.5 A69,69 0 0 0 1572.3,1927" stroke-width="2.4" fill="none"/>
<line x1="572.6" y1="1533.3" x2="572.6" y2="2045" stroke-width="8.6"/>
<line x1="568.3" y1="1537.6" x2="614.5" y2="1537.6" stroke-width="8.6"/>
<line x1="682.1" y1="1537.6" x2="703.2" y2="1537.6" stroke-width="8.6"/>
<line x1="783.8" y1="1537.6" x2="810.5" y2="1537.6" stroke-width="8.6"/>
<rect x="703.2" y="1530.3" width="80.6" height="14.5" fill="#fff" stroke="none"/>
<line x1="703.2" y1="1530.3" x2="783.8" y2="1530.3" stroke-width="2.4"/>
<line x1="703.2" y1="1544.8" x2="783.8" y2="1544.8" stroke-width="2.4"/>
<line x1="703.2" y1="1537.6" x2="783.8" y2="1537.6" stroke-width="2.4"/>
<line x1="703.2" y1="1525.1" x2="703.2" y2="1550.1" stroke-width="2.4"/>
<line x1="783.8" y1="1525.1" x2="783.8" y2="1550.1" stroke-width="2.4"/>
<line x1="613" y1="1533.3" x2="613" y2="1606" stroke-width="3.2"/>
<path d="M613,1606 A69,69 0 0 0 682.1,1541" stroke-width="2.4" fill="none"/>
<line x1="568.3" y1="2040.7" x2="592.6" y2="2040.7" stroke-width="8.6"/>
<line x1="1117.9" y1="2040.7" x2="1141" y2="2040.7" stroke-width="8.6"/>
<rect x="592.6" y="2027.3" width="525.3" height="26.3" stroke-width="2.6" fill="#fff"/>
<line x1="1136.7" y1="1305" x2="1136.7" y2="1926" stroke-width="4"/>
<line x1="1136.9" y1="1923.4" x2="1136.9" y2="2045" stroke-width="7.6"/>
<line x1="810" y1="1535.7" x2="1138" y2="1535.7" stroke-width="4"/>
<line x1="809.7" y1="1305.8" x2="881.8" y2="1305.8" stroke-width="4"/>
<line x1="949.6" y1="1305.8" x2="1020" y2="1305.8" stroke-width="4"/>
<line x1="1018" y1="1305.8" x2="1136" y2="1305.8" stroke-width="2.4"/>
<line x1="881.8" y1="1304" x2="881.8" y2="1311" stroke-width="2.4"/>
<line x1="951.3" y1="1304" x2="951.3" y2="1373" stroke-width="3.2"/>
<path d="M951.3,1373 A68.4,68.4 0 0 1 883.2,1307" stroke-width="2.4" fill="none"/>
<line x1="961.3" y1="1304" x2="961.3" y2="1537" stroke-width="4"/>
<line x1="1018.6" y1="1304" x2="1018.6" y2="1537" stroke-width="4"/>
<line x1="885.5" y1="1307" x2="885.5" y2="1534" stroke-width="1.5"/>
<line x1="940.9" y1="1307" x2="940.9" y2="1534" stroke-width="1.5"/>
<line x1="863.3" y1="1362.7" x2="959.5" y2="1362.7" stroke-width="1.5"/>
<line x1="863.3" y1="1417.4" x2="959.5" y2="1417.4" stroke-width="1.5"/>
<line x1="810.5" y1="1472.9" x2="959.5" y2="1472.9" stroke-width="1.5"/>
<line x1="810.5" y1="1528.4" x2="959.5" y2="1528.4" stroke-width="1.5"/>
<line x1="863.3" y1="1307" x2="863.3" y2="1461.1" stroke-width="2.4"/>
<line x1="810.5" y1="1461.1" x2="864.5" y2="1461.1" stroke-width="2.4"/>
<rect x="816.3" y="1389.7" width="35.9" height="49.2" stroke-width="2.4" fill="#fff"/>
<text x="852.2" y="1496" font-size="40.5" text-anchor="middle" transform="rotate(-90 852.2 1496)" style="fill:#1c1c1c;stroke:#1c1c1c;stroke-width:0.57px">WM</text>
<text x="925.4" y="1440.7" font-size="50" text-anchor="middle" transform="rotate(-90 925.4 1440.7)" style="fill:#1c1c1c;stroke:#1c1c1c;stroke-width:0.70px">L'DRY</text>
<text x="990.3" y="1365.5" font-size="41" text-anchor="middle" style="fill:#1c1c1c;stroke:#1c1c1c;stroke-width:0.57px">C</text>
<text x="990.3" y="1482" font-size="41" text-anchor="middle" style="fill:#1c1c1c;stroke:#1c1c1c;stroke-width:0.57px">C</text>
<line x1="961.3" y1="1400.8" x2="1018.6" y2="1400.8" stroke-width="2.4"/>
<line x1="1018.6" y1="1334.3" x2="1136" y2="1334.3" stroke-width="1.9"/>
<line x1="1018.6" y1="1362" x2="1136" y2="1362" stroke-width="1.9"/>
<line x1="1018.6" y1="1390.8" x2="1136" y2="1390.8" stroke-width="1.9"/>
<line x1="1018.6" y1="1419.3" x2="1136" y2="1419.3" stroke-width="1.9"/>
<line x1="1018.6" y1="1447.8" x2="1136" y2="1447.8" stroke-width="1.9"/>
<line x1="1018.6" y1="1476.6" x2="1136" y2="1476.6" stroke-width="1.9"/>
<line x1="1018.5" y1="1505.4" x2="1136" y2="1478.4" stroke-width="3.2"/>
<text x="1075.2" y="1278.8" font-size="33.7" text-anchor="middle" style="fill:#1c1c1c;stroke:#1c1c1c;stroke-width:0.47px">UP</text>
<line x1="1073.9" y1="1288.1" x2="1073.9" y2="1349.3" stroke-width="2.4"/>
<path d="M1073.9,1361.3 L1066.9,1348.3 L1080.9,1348.3 Z" fill="#1c1c1c" stroke="none"/>
<rect x="1135" y="1303.6" width="60.2" height="20.7" fill="#1c1c1c" stroke="none"/>
<path d="M1194.1,1324 L1194.1,1478.4 L1233.6,1557.2" stroke-width="3.1" fill="none" stroke-linejoin="miter"/>
<line x1="1136" y1="1478.4" x2="1195.2" y2="1478.4" stroke-width="3.1"/>
<line x1="1233.6" y1="1554" x2="1233.6" y2="1613" stroke-width="4.2"/>
<text x="1180" y="1567.6" font-size="41" text-anchor="middle" style="fill:#1c1c1c;stroke:#1c1c1c;stroke-width:0.57px">P</text>
<line x1="1136.8" y1="1612.6" x2="1410.3" y2="1612.6" stroke-width="3.5"/>
<line x1="1233.6" y1="1557.2" x2="1408.5" y2="1557.2" stroke-width="2.9"/>
<line x1="1408.5" y1="1557.2" x2="1408.5" y2="1612.6" stroke-width="2.9"/>
<path d="M1408.5,1611 L1408.5,1653.3 L1527,1653.3" stroke-width="4" fill="none" stroke-linejoin="miter"/>
<line x1="1505.7" y1="1556" x2="1505.7" y2="1653.3" stroke-width="3.2"/>
<text x="1459.3" y="1622.9" font-size="41" text-anchor="middle" style="fill:#1c1c1c;stroke:#1c1c1c;stroke-width:0.57px">F</text>
<rect x="1291.5" y="1542.7" width="56.5" height="14.5" stroke-width="2.4" fill="none"/>
<rect x="1292" y="1562.8" width="55" height="44.2" rx="8" stroke-width="2.7"/>
<circle cx="1304.5" cy="1575.8" r="6.4" stroke-width="2.4" fill="none"/>
<circle cx="1304.5" cy="1595.3" r="6.4" stroke-width="2.4" fill="none"/>
<circle cx="1335" cy="1575.8" r="6.4" stroke-width="2.4" fill="none"/>
<circle cx="1335" cy="1595.3" r="6.4" stroke-width="2.4" fill="none"/>
<line x1="1276.9" y1="1460.7" x2="1286.7" y2="1460.7" stroke-width="2.4"/>
<line x1="1300.6" y1="1460.7" x2="1315.5" y2="1460.7" stroke-width="2.4"/>
<line x1="1329.4" y1="1460.7" x2="1339.2" y2="1460.7" stroke-width="2.4"/>
<line x1="1338" y1="1459.5" x2="1338" y2="1469.3" stroke-width="2.4"/>
<line x1="1338" y1="1485.2" x2="1338" y2="1500" stroke-width="2.4"/>
<line x1="1338" y1="1515.9" x2="1338" y2="1525.7" stroke-width="2.4"/>
<line x1="1339.2" y1="1524.5" x2="1329.4" y2="1524.5" stroke-width="2.4"/>
<line x1="1315.5" y1="1524.5" x2="1300.6" y2="1524.5" stroke-width="2.4"/>
<line x1="1286.7" y1="1524.5" x2="1276.9" y2="1524.5" stroke-width="2.4"/>
<line x1="1278.1" y1="1525.7" x2="1278.1" y2="1515.9" stroke-width="2.4"/>
<line x1="1278.1" y1="1500" x2="1278.1" y2="1485.2" stroke-width="2.4"/>
<line x1="1278.1" y1="1469.3" x2="1278.1" y2="1459.5" stroke-width="2.4"/>
<line x1="1427.6" y1="1460.7" x2="1437.4" y2="1460.7" stroke-width="2.4"/>
<line x1="1451.5" y1="1460.7" x2="1466.3" y2="1460.7" stroke-width="2.4"/>
<line x1="1480.5" y1="1460.7" x2="1490.3" y2="1460.7" stroke-width="2.4"/>
<line x1="1489.1" y1="1459.5" x2="1489.1" y2="1469.3" stroke-width="2.4"/>
<line x1="1489.1" y1="1485.2" x2="1489.1" y2="1500" stroke-width="2.4"/>
<line x1="1489.1" y1="1515.9" x2="1489.1" y2="1525.7" stroke-width="2.4"/>
<line x1="1490.3" y1="1524.5" x2="1480.5" y2="1524.5" stroke-width="2.4"/>
<line x1="1466.3" y1="1524.5" x2="1451.5" y2="1524.5" stroke-width="2.4"/>
<line x1="1437.4" y1="1524.5" x2="1427.6" y2="1524.5" stroke-width="2.4"/>
<line x1="1428.8" y1="1525.7" x2="1428.8" y2="1515.9" stroke-width="2.4"/>
<line x1="1428.8" y1="1500" x2="1428.8" y2="1485.2" stroke-width="2.4"/>
<line x1="1428.8" y1="1469.3" x2="1428.8" y2="1459.5" stroke-width="2.4"/>
<text x="1320.4" y="1538.3" font-size="41.5" text-anchor="middle" style="fill:#1c1c1c;stroke:#1c1c1c;stroke-width:0.58px">OV</text>
<text x="1475.6" y="1470.7" font-size="41.3" text-anchor="middle" style="fill:#1c1c1c;stroke:#1c1c1c;stroke-width:0.58px">DW</text>
<rect x="1290.2" y="1322.4" width="219.2" height="98" stroke-width="2.9" fill="none"/>
<circle cx="1411.1" cy="1388.6" r="19.6" stroke-width="2.6" fill="none"/>
<rect x="1446.2" y="1420.4" width="58.4" height="14.8" stroke-width="2.6" fill="none"/>
<text x="1261.7" y="1406" font-size="50" text-anchor="middle" transform="rotate(-90 1261.7 1406)" style="fill:#1c1c1c;stroke:#1c1c1c;stroke-width:0.70px">KITCHEN</text>
<line x1="1525" y1="1585.7" x2="1525" y2="1653.3" stroke-width="3.2"/>
<path d="M1525,1585.7 A67.7,67.7 0 0 1 1594,1653" stroke-width="2.4" fill="none"/>
<line x1="1663.5" y1="1585.7" x2="1663.5" y2="1653.3" stroke-width="3.2"/>
<path d="M1663.5,1585.7 A67.7,67.7 0 0 0 1594,1653" stroke-width="2.4" fill="none"/>
<line x1="1662" y1="1653.3" x2="1682" y2="1653.3" stroke-width="4"/>
<line x1="1682" y1="701" x2="1682" y2="1087.4" stroke-width="3.8"/>
<line x1="1682" y1="1092.8" x2="1682" y2="1150" stroke-width="2.4"/>
<line x1="1682" y1="1171.4" x2="1682" y2="1698.4" stroke-width="3.8"/>
<line x1="1682" y1="1837" x2="1682" y2="1928" stroke-width="3.8"/>
<path d="M1682,1166.5 L1672.5,1148.4 L1691.5,1148.4 Z" fill="#1c1c1c" stroke="none"/>
<line x1="1680" y1="892.9" x2="1742.3" y2="892.9" stroke-width="4"/>
<line x1="1740.4" y1="701" x2="1740.4" y2="724.7" stroke-width="4"/>
<line x1="1740.4" y1="868.9" x2="1740.4" y2="894.7" stroke-width="4"/>
<line x1="1739.6" y1="724.7" x2="1739.6" y2="800" stroke-width="1.9"/>
<line x1="1741.3" y1="795" x2="1741.3" y2="868.9" stroke-width="1.9"/>
<text x="1727.5" y="805.1" font-size="41.5" text-anchor="middle" transform="rotate(-90 1727.5 805.1)" style="fill:#1c1c1c;stroke:#1c1c1c;stroke-width:0.58px">BIR</text>
<line x1="1680" y1="1340.6" x2="1742.3" y2="1340.6" stroke-width="4"/>
<line x1="1740.4" y1="1338.8" x2="1740.4" y2="1365.7" stroke-width="4"/>
<line x1="1740.4" y1="1530.2" x2="1740.4" y2="1557.2" stroke-width="4"/>
<line x1="1739.6" y1="1365.7" x2="1739.6" y2="1452" stroke-width="1.9"/>
<line x1="1741.3" y1="1447" x2="1741.3" y2="1530.2" stroke-width="1.9"/>
<text x="1727.5" y="1447" font-size="41.5" text-anchor="middle" transform="rotate(-90 1727.5 1447)" style="fill:#1c1c1c;stroke:#1c1c1c;stroke-width:0.58px">BIR</text>
<line x1="1680" y1="968.4" x2="1703.4" y2="968.4" stroke-width="4"/>
<line x1="1701.7" y1="900.3" x2="1701.7" y2="968.4" stroke-width="3.2"/>
<path d="M1701.7,900.3 A68.3,68.3 0 0 1 1770,968.4" stroke-width="2.4" fill="none"/>
<line x1="1769" y1="969.3" x2="2046" y2="969.3" stroke-width="3.8"/>
<line x1="1897.5" y1="969" x2="1897.5" y2="986.2" stroke-width="4"/>
<line x1="1897.5" y1="984.4" x2="1966.7" y2="984.4" stroke-width="4"/>
<path d="M1966.7,984.4 A68.2,68.2 0 0 1 1899,1052.6" stroke-width="2.4" fill="none"/>
<line x1="1897.5" y1="1052" x2="1897.5" y2="1070" stroke-width="4"/>
<line x1="1940.4" y1="971" x2="1940.4" y2="1067" stroke-width="1.5"/>
<line x1="1995.7" y1="971" x2="1995.7" y2="1067" stroke-width="1.5"/>
<line x1="1899" y1="973.5" x2="2045" y2="973.5" stroke-width="1.5"/>
<line x1="1899" y1="1029.6" x2="2030" y2="1029.6" stroke-width="1.5"/>
<rect x="2030.4" y="996.6" width="10.8" height="43.4" stroke-width="2.4" fill="#fff"/>
<ellipse cx="2007.3" cy="1017.5" rx="25.8" ry="19" stroke-width="2.4" fill="#fff"/>
<ellipse cx="2006" cy="1017.5" rx="18.4" ry="12.2" stroke-width="2.4" fill="#fff"/>
<line x1="1861.8" y1="1069" x2="2046" y2="1069" stroke-width="3.8"/>
<line x1="1781" y1="1067.1" x2="1781" y2="1229" stroke-width="4"/>
<line x1="1779.2" y1="1069" x2="1794" y2="1069" stroke-width="4"/>
<line x1="1792.4" y1="1069" x2="1792.4" y2="1137.5" stroke-width="3.2"/>
<path d="M1792.4,1137.5 A68.3,68.3 0 0 0 1861.6,1071" stroke-width="2.4" fill="none"/>
<line x1="1783" y1="1083.9" x2="2012.8" y2="1083.9" stroke-width="1.5"/>
<line x1="1783" y1="1140.3" x2="2012.8" y2="1140.3" stroke-width="1.5"/>
<line x1="1829" y1="1070" x2="1829" y2="1147" stroke-width="1.5"/>
<line x1="1885.3" y1="1070" x2="1885.3" y2="1190.4" stroke-width="1.5"/>
<line x1="1940.4" y1="1070" x2="1940.4" y2="1162" stroke-width="1.5"/>
<line x1="1995.7" y1="1070" x2="1995.7" y2="1190.4" stroke-width="1.5"/>
<line x1="2012.8" y1="1070" x2="2012.8" y2="1191.6" stroke-width="2.4"/>
<path d="M1859,1190.4 L1900.8,1190.4 A28.5,28.5 0 0 1 1957.8,1190.4 L2012.8,1190.4" stroke-width="2.4" fill="none"/>
<ellipse cx="1929.3" cy="1191.8" rx="19" ry="15" stroke-width="2.4" fill="#fff"/>
<rect x="1782" y="1147" width="77" height="79" stroke-width="2.6" fill="#fff"/>
<line x1="1782" y1="1147" x2="1859" y2="1226" stroke-width="2.4"/>
<line x1="1782" y1="1226" x2="1859" y2="1147" stroke-width="2.4"/>
<circle cx="1820.3" cy="1186.9" r="6" stroke-width="2" fill="#fff"/>
<line x1="1816" y1="1186.9" x2="1824.6" y2="1186.9" stroke-width="1.5"/>
<line x1="1820.3" y1="1182.6" x2="1820.3" y2="1191.2" stroke-width="1.5"/>
<line x1="1769.5" y1="1227.8" x2="2046" y2="1227.8" stroke-width="4.3"/>
<text x="1924" y="1144" font-size="50" text-anchor="middle" style="fill:#1c1c1c;stroke:#1c1c1c;stroke-width:0.70px">BATH</text>
<line x1="1680" y1="1228.5" x2="1703.4" y2="1228.5" stroke-width="4"/>
<line x1="1701.7" y1="1228.5" x2="1701.7" y2="1298.9" stroke-width="3.2"/>
<path d="M1701.7,1298.9 A69,69 0 0 0 1770.7,1230" stroke-width="2.4" fill="none"/>
<line x1="1682" y1="1557.2" x2="2046" y2="1557.2" stroke-width="4"/>
<line x1="1682" y1="1698.4" x2="1750.4" y2="1698.4" stroke-width="4"/>
<path d="M1750.4,1698.4 A68.4,68.4 0 0 1 1682,1767.4" stroke-width="2.4" fill="none"/>
<line x1="1682" y1="1837" x2="1751" y2="1837" stroke-width="4"/>
<path d="M1751,1837 A69,69 0 0 0 1682,1767.4" stroke-width="2.4" fill="none"/>
<rect x="823.4" y="1068.8" width="57.6" height="119.1" fill="#1c1c1c" stroke="none"/>
<rect x="857" y="1089.2" width="23" height="77.6" fill="#fff" stroke="none"/>
<text x="915" y="1130.3" font-size="41.5" text-anchor="middle" transform="rotate(-90 915 1130.3)" style="fill:#1c1c1c;stroke:#1c1c1c;stroke-width:0.58px">FP</text>
<line x1="1141" y1="2040.2" x2="1896.6" y2="2040.2" stroke-width="2.6"/>
<line x1="1896.6" y1="1931.6" x2="1896.6" y2="2041.4" stroke-width="2.6"/>
<rect x="1548.5" y="2040.2" width="114.3" height="76.8" stroke-width="2.6" fill="none"/>
<path d="M1136.7,2045 V2080 M2049.3,1931.8 V2080" stroke-width="2.4" stroke-dasharray="17 17"/>
<path d="M1152,2100.8 H2036" stroke-width="2.4" stroke-dasharray="17 16.5" stroke-dashoffset="-8"/>
<rect x="1135.4" y="2078.2" width="17.2" height="23.7" fill="#1c1c1c" stroke="none"/>
<rect x="1257.4" y="2078.2" width="17.3" height="23.7" fill="#1c1c1c" stroke="none"/>
<rect x="1431.2" y="2078.2" width="17.3" height="23.7" fill="#1c1c1c" stroke="none"/>
<rect x="1750.4" y="2078.2" width="17.2" height="23.7" fill="#1c1c1c" stroke="none"/>
<rect x="1892" y="2078.2" width="16.9" height="23.7" fill="#1c1c1c" stroke="none"/>
<rect x="2033.4" y="2078.2" width="17" height="23.7" fill="#1c1c1c" stroke="none"/>
<text x="1598.8" y="2165.7" font-size="33.7" text-anchor="middle" style="fill:#1c1c1c;stroke:#1c1c1c;stroke-width:0.47px">UP</text>
<line x1="1599.4" y1="2134.3" x2="1599.4" y2="2094.5" stroke-width="2.4"/>
<path d="M1599.4,2082.5 L1606.4,2095.5 L1592.4,2095.5 Z" fill="#1c1c1c" stroke="none"/>
<text x="1525.8" y="921.7" font-size="50" text-anchor="middle" style="fill:#1c1c1c;stroke:#1c1c1c;stroke-width:0.70px">LIVING</text>
<text x="1067.1" y="1095.8" font-size="50" text-anchor="middle" style="fill:#1c1c1c;stroke:#1c1c1c;stroke-width:0.70px">DINING</text>
<text x="1379" y="1093.3" font-size="41" text-anchor="middle" style="fill:#1c1c1c;stroke:#1c1c1c;stroke-width:0.57px">8.9 x 9.3</text>
<text x="1292.4" y="1777.9" font-size="50" text-anchor="middle" style="fill:#1c1c1c;stroke:#1c1c1c;stroke-width:0.70px">SITTING</text>
<text x="1293" y="1827.8" font-size="41" text-anchor="middle" style="fill:#1c1c1c;stroke:#1c1c1c;stroke-width:0.57px">5.0 x 3.5</text>
<text x="1588.3" y="1827.8" font-size="50" text-anchor="middle" style="fill:#1c1c1c;stroke:#1c1c1c;stroke-width:0.70px">ENTRY</text>
<text x="843.5" y="1779.7" font-size="50" text-anchor="middle" style="fill:#1c1c1c;stroke:#1c1c1c;stroke-width:0.70px">GARAGE</text>
<text x="843.5" y="1828.5" font-size="41" text-anchor="middle" style="fill:#1c1c1c;stroke:#1c1c1c;stroke-width:0.57px">5.8 x 5.2</text>
<text x="1891" y="820.8" font-size="50" text-anchor="middle" style="fill:#1c1c1c;stroke:#1c1c1c;stroke-width:0.70px">BEDROOM</text>
<text x="1891" y="870.7" font-size="41" text-anchor="middle" style="fill:#1c1c1c;stroke:#1c1c1c;stroke-width:0.57px">3.8 x 2.7</text>
<text x="1891" y="1390.8" font-size="50" text-anchor="middle" style="fill:#1c1c1c;stroke:#1c1c1c;stroke-width:0.70px">BEDROOM</text>
<text x="1891" y="1441.5" font-size="41" text-anchor="middle" style="fill:#1c1c1c;stroke:#1c1c1c;stroke-width:0.57px">3.8 x 3.3</text>
<text x="1888" y="1718.7" font-size="50" text-anchor="middle" style="fill:#1c1c1c;stroke:#1c1c1c;stroke-width:0.70px">BEDROOM</text>
<text x="1888" y="1768.7" font-size="41" text-anchor="middle" style="fill:#1c1c1c;stroke:#1c1c1c;stroke-width:0.57px">3.8 x 3.8</text>
<text x="1515.8" y="2006.2" font-size="50" text-anchor="middle" style="fill:#1c1c1c;stroke:#1c1c1c;stroke-width:0.70px">PORCH</text>
<text x="573.6" y="2114.8" font-size="37.7" style="fill:#1c1c1c;stroke:#1c1c1c;stroke-width:0.53px">GROUND FLOOR</text>
</g>
<g id="site">
<path d="M878,2198.5 L2275,2198.5 L2275,3262.5 L1604.7,3262.5 L1604.7,3052.8 L1214.5,3052.8 L1214.5,3094.6 L878,3094.6 Z" stroke-width="0" fill="#e3e5e6" stroke-linejoin="miter" stroke="none"/>
<rect x="1215" y="2256.2" width="68" height="204.4" fill="#ebebec" stroke="none"/>
<path d="M1283,2256.2 L1516.5,2256.2 L1516.5,2371.2 L1415.3,2461.8 L1283,2461.8 Z" stroke-width="0" fill="#e7e8e9" stroke-linejoin="miter" stroke="none"/>
<rect x="1215" y="2460.6" width="200" height="202.4" fill="#ececec" stroke="none"/>
<path d="M1516.5,2371.2 L1714.4,2371.2 L1803.1,2281 L2130,2281 L2130,2986.6 L1604.7,2986.6 L1604.7,3052.8 L1280.5,3052.8 L1280.5,2762.5 L1415.3,2762.5 L1415.3,2461.8 Z" stroke-width="0" fill="#ececec" stroke-linejoin="miter" stroke="none"/>
<rect x="1215" y="2663" width="200" height="99.5" fill="#fff" stroke="none"/>
<rect x="1124" y="2763.4" width="90.5" height="50" fill="#fff" stroke="none"/>
<rect x="1604.7" y="2986.6" width="524.3" height="99" fill="#fff" stroke="none"/>
<rect x="1280.5" y="3055.8" width="324.2" height="206.2" fill="#fff" stroke="none"/>
<path d="M935.5,3046.3 L935.5,2366.3 L1046.3,2366.3 L1046.3,2256.2 L1721.8,2256.2 L1795.8,2235.7 L2215.7,2235.7 L2215.7,2480.7 L2275,2480.7" stroke-width="2.2" fill="none" stroke-linejoin="miter"/>
<line x1="880" y1="3046.3" x2="935.5" y2="3046.3" stroke-width="2.2"/>
<line x1="1215.1" y1="2256.2" x2="1215.1" y2="2460.6" stroke-width="2.2"/>
<line x1="1237.8" y1="2256.2" x2="1237.8" y2="2460.6" stroke-width="2.2"/>
<line x1="1260.3" y1="2256.2" x2="1260.3" y2="2460.6" stroke-width="2.2"/>
<line x1="1283" y1="2256.2" x2="1283" y2="2460.6" stroke-width="2.2"/>
<line x1="1046.3" y1="2256.2" x2="1721.8" y2="2256.2" stroke-width="2.8"/>
<line x1="1516.5" y1="2256.2" x2="1516.5" y2="2369" stroke-width="3.3"/>
<line x1="1215.1" y1="2459" x2="1215.1" y2="2664.5" stroke-width="3.4"/>
<line x1="1214" y1="2460.6" x2="1412" y2="2460.6" stroke-width="2.4"/>
<line x1="1215" y1="2638.5" x2="1412" y2="2638.5" stroke-width="2.2"/>
<line x1="1213.5" y1="2663" x2="1412" y2="2663" stroke-width="2.6"/>
<line x1="1214.5" y1="2664" x2="1214.5" y2="3094.6" stroke-width="2.2"/>
<line x1="1214.5" y1="2762.5" x2="1282" y2="2762.5" stroke-width="2.2"/>
<rect x="1124" y="2763.4" width="90.5" height="50" stroke-width="2.4" fill="none"/>
<line x1="1138.2" y1="2763.4" x2="1138.2" y2="2813.4" stroke-width="2"/>
<line x1="1152.4" y1="2763.4" x2="1152.4" y2="2813.4" stroke-width="2"/>
<line x1="1165.4" y1="2763.4" x2="1165.4" y2="2813.4" stroke-width="2"/>
<line x1="1165.4" y1="2763.4" x2="1179.2" y2="2813.4" stroke-width="2.6"/>
<text x="1108" y="2794.9" font-size="20.5" text-anchor="middle" style="fill:#1c1c1c;stroke:#1c1c1c;stroke-width:0.30px">UP</text>
<line x1="1121" y1="2790.6" x2="1146.7" y2="2790.6" stroke-width="2"/>
<path d="M1156.7,2790.6 L1145.7,2796.6 L1145.7,2784.6 Z" fill="#1c1c1c" stroke="none"/>
<path d="M1516.5,2371.2 L1714.4,2371.2 L1803.1,2281 L2130,2281 L2130,2986.6 L1604.7,2986.6 L1604.7,3052.8 L1280.5,3052.8 L1280.5,2762.5 L1415.3,2762.5 L1415.3,2461.8 Z" stroke-width="8.6" fill="none" stroke-linejoin="miter"/>
<text x="1378.8" y="2363.5" font-size="49" text-anchor="middle" style="fill:#1c1c1c;stroke:#1c1c1c;stroke-width:0.69px">DECK</text>
<text x="1190" y="2371.7" font-size="20.5" text-anchor="middle" style="fill:#1c1c1c;stroke:#1c1c1c;stroke-width:0.30px">UP</text>
<line x1="1206.9" y1="2367.4" x2="1248.6" y2="2367.4" stroke-width="2"/>
<path d="M1259.6,2367.4 L1247.6,2373.9 L1247.6,2360.9 Z" fill="#1c1c1c" stroke="none"/>
<text x="1549.8" y="2327" font-size="20.5" text-anchor="middle" style="fill:#1c1c1c;stroke:#1c1c1c;stroke-width:0.30px">UP</text>
<line x1="1532.4" y1="2320.1" x2="1507.1" y2="2320.1" stroke-width="2"/>
<path d="M1496.1,2320.1 L1508.1,2313.6 L1508.1,2326.6 Z" fill="#1c1c1c" stroke="none"/>
<text x="1314.5" y="2543.6" font-size="24.8" text-anchor="middle" style="fill:#1c1c1c;stroke:#1c1c1c;stroke-width:0.35px">ALFRESCO /</text>
<text x="1315" y="2569" font-size="24.8" text-anchor="middle" style="fill:#1c1c1c;stroke:#1c1c1c;stroke-width:0.35px">DECK</text>
<text x="1314" y="2693.2" font-size="20.5" text-anchor="middle" style="fill:#1c1c1c;stroke:#1c1c1c;stroke-width:0.30px">UP</text>
<line x1="1315" y1="2676" x2="1315" y2="2649.3" stroke-width="2"/>
<path d="M1315,2639.3 L1321,2650.3 L1309,2650.3 Z" fill="#1c1c1c" stroke="none"/>
<text x="1754.6" y="2697.6" font-size="49.3" text-anchor="middle" style="fill:#1c1c1c;stroke:#1c1c1c;stroke-width:0.69px">RESIDENCE</text>
<rect x="2219.7" y="2493" width="55.6" height="143.4" stroke-width="7" fill="#fff"/>
<text x="2254.2" y="2564" font-size="24.4" text-anchor="middle" transform="rotate(-90 2254.2 2564)" style="fill:#1c1c1c;stroke:#1c1c1c;stroke-width:0.34px">STORAGE</text>
<line x1="1607" y1="3050.5" x2="2041" y2="3050.5" stroke-width="2.2"/>
<line x1="2041" y1="2990" x2="2041" y2="3051.6" stroke-width="2.2"/>
<text x="1805.1" y="3039.1" font-size="48.6" text-anchor="middle" style="fill:#1c1c1c;stroke:#1c1c1c;stroke-width:0.68px">PORCH</text>
<path d="M1610,3085.6 H2129 M2129,2990 V3085.6" stroke-width="2.6" stroke-dasharray="15 11"/>
<rect x="1605.2" y="3073.3" width="10" height="13.5" fill="#1c1c1c" stroke="none"/>
<rect x="1674.5" y="3073.3" width="10" height="13.5" fill="#1c1c1c" stroke="none"/>
<rect x="1773.9" y="3073.3" width="10" height="13.5" fill="#1c1c1c" stroke="none"/>
<rect x="1957.6" y="3073.3" width="10" height="13.5" fill="#1c1c1c" stroke="none"/>
<rect x="2038.3" y="3073.3" width="10" height="13.5" fill="#1c1c1c" stroke="none"/>
<rect x="2119.5" y="3073.3" width="10" height="13.5" fill="#1c1c1c" stroke="none"/>
<rect x="1817.6" y="3086" width="106.2" height="28.3" stroke-width="2.2" fill="#fff"/>
<rect x="1841.3" y="3051.4" width="66.1" height="43.7" stroke-width="2.2" fill="#fff"/>
<path d="M1841.3,3085.6 H1907.4" stroke-width="2.6" stroke-dasharray="15 11"/>
<rect x="1819" y="3114.3" width="67" height="59.3" stroke-width="2.2" fill="#fff"/>
<rect x="1706.8" y="3130.3" width="112.2" height="33.2" stroke-width="2.2" fill="#fff"/>
<rect x="1604.7" y="3165.4" width="123.1" height="41" stroke-width="2.2" fill="#fff"/>
<text x="1875.5" y="3075.5" font-size="20.5" text-anchor="middle" style="fill:#1c1c1c;stroke:#1c1c1c;stroke-width:0.30px">UP</text>
<line x1="1877.8" y1="3056" x2="1877.8" y2="3044.9" stroke-width="2"/>
<path d="M1877.8,3035.9 L1883.8,3045.9 L1871.8,3045.9 Z" fill="#1c1c1c" stroke="none"/>
<text x="1850.7" y="3141.7" font-size="20.5" text-anchor="middle" style="fill:#1c1c1c;stroke:#1c1c1c;stroke-width:0.30px">UP</text>
<line x1="1851.8" y1="3123.4" x2="1851.8" y2="3107" stroke-width="2"/>
<path d="M1851.8,3097 L1857.8,3108 L1845.8,3108 Z" fill="#1c1c1c" stroke="none"/>
<text x="1792" y="3153.1" font-size="20.5" text-anchor="middle" style="fill:#1c1c1c;stroke:#1c1c1c;stroke-width:0.30px">UP</text>
<line x1="1808.5" y1="3147.6" x2="1825.9" y2="3147.6" stroke-width="2"/>
<path d="M1835.9,3147.6 L1824.9,3153.6 L1824.9,3141.6 Z" fill="#1c1c1c" stroke="none"/>
<path d="M1280.5,3056 L1280.5,3262 L1604.7,3262" stroke-width="2.2" fill="none" stroke-linejoin="miter"/>
<line x1="1604.7" y1="3052.7" x2="1604.7" y2="3262.5" stroke-width="2.2"/>
<text x="1443" y="3170.1" font-size="49" text-anchor="middle" style="fill:#1c1c1c;stroke:#1c1c1c;stroke-width:0.69px">CARSPACE</text>
<line x1="1214.5" y1="3052.8" x2="1225" y2="3052.8" stroke-width="2.2"/>
<line x1="1224.5" y1="3052.8" x2="1224.5" y2="3095" stroke-width="2.6"/>
<path d="M1224.5,3095 A43,43 0 0 0 1269.7,3052.8" stroke-width="2" fill="none"/>
<line x1="1269" y1="3052.8" x2="1281" y2="3052.8" stroke-width="2.2"/>
<line x1="2133" y1="2986.6" x2="2180" y2="2986.6" stroke-width="2.2"/>
<line x1="2179.2" y1="2943.3" x2="2179.2" y2="2987.7" stroke-width="2.6"/>
<path d="M2179.2,2943.3 A44,44 0 0 1 2223.4,2986.6" stroke-width="2" fill="none"/>
<line x1="2223" y1="2986.6" x2="2275" y2="2986.6" stroke-width="2.2"/>
<path d="M1214.5,3094.6 L878,3094.6 L878,2198.5 L2275,2198.5 L2275,3262.5 L1604.7,3262.5" stroke-width="3" fill="none" stroke-linejoin="miter"/>
<use href="#sh" transform="translate(906.6 2223.1) rotate(0) scale(0.207)"/>
<use href="#sh" transform="translate(906.6 2267.5) rotate(0) scale(0.207)"/>
<use href="#sh" transform="translate(906.6 2311.9) rotate(0) scale(0.207)"/>
<use href="#sh" transform="translate(906.6 2356.3) rotate(0) scale(0.207)"/>
<use href="#sh" transform="translate(906.6 2400.7) rotate(0) scale(0.207)"/>
<use href="#sh" transform="translate(906.6 2445.1) rotate(0) scale(0.207)"/>
<use href="#sh" transform="translate(906.6 2489.5) rotate(0) scale(0.207)"/>
<use href="#sh" transform="translate(906.6 2533.9) rotate(0) scale(0.207)"/>
<use href="#sh" transform="translate(906.6 2578.3) rotate(0) scale(0.207)"/>
<use href="#sh" transform="translate(906.6 2622.7) rotate(0) scale(0.207)"/>
<use href="#sh" transform="translate(906.6 2667.1) rotate(0) scale(0.207)"/>
<use href="#sh" transform="translate(906.6 2711.5) rotate(0) scale(0.207)"/>
<use href="#sh" transform="translate(906.6 2755.9) rotate(0) scale(0.207)"/>
<use href="#sh" transform="translate(906.6 2800.3) rotate(0) scale(0.207)"/>
<use href="#sh" transform="translate(906.6 2844.7) rotate(0) scale(0.207)"/>
<use href="#sh" transform="translate(906.6 2889.1) rotate(0) scale(0.207)"/>
<use href="#sh" transform="translate(906.6 2933.5) rotate(0) scale(0.207)"/>
<use href="#sh" transform="translate(906.6 2977.9) rotate(0) scale(0.207)"/>
<use href="#sh" transform="translate(906.6 3022.3) rotate(0) scale(0.207)"/>
<use href="#sh" transform="translate(1072.8 2228.6) rotate(0) scale(0.269)"/>
<use href="#sh" transform="translate(1134.5 2228.6) rotate(0) scale(0.269)"/>
<use href="#sh" transform="translate(1196.2 2228.6) rotate(0) scale(0.269)"/>
<use href="#sh" transform="translate(1258.2 2228.6) rotate(0) scale(0.269)"/>
<use href="#sh" transform="translate(1335.7 2212.3) rotate(0) scale(0.142)"/>
<use href="#sh" transform="translate(1324.5 2239.1) rotate(0) scale(0.138)"/>
<use href="#sh" transform="translate(1391.4 2232.6) rotate(0) scale(0.207)"/>
<use href="#sh" transform="translate(1437.1 2220.1) rotate(0) scale(0.164)"/>
<use href="#sh" transform="translate(1557.7 2227.8) rotate(0) scale(0.280)"/>
<use href="#sh" transform="translate(1619.8 2225.3) rotate(0) scale(0.187)"/>
<use href="#sh" transform="translate(1693.7 2227.8) rotate(0) scale(0.280)"/>
<use href="#sh" transform="translate(1761.2 2222.9) rotate(0) scale(0.220)"/>
<use href="#sh" transform="translate(1878.6 2218) rotate(0) scale(0.170)"/>
<use href="#sh" transform="translate(1968.3 2218) rotate(0) scale(0.170)"/>
<use href="#sh" transform="translate(2057 2218) rotate(0) scale(0.170)"/>
<use href="#sh" transform="translate(2242.8 2227.8) rotate(0) scale(0.280)"/>
<use href="#sh" transform="translate(1523.7 2245.6) rotate(0) scale(0.090)"/>
<use href="#sh" transform="translate(1592.7 2245.6) rotate(0) scale(0.090)"/>
<use href="#sh" transform="translate(1637 2244) rotate(0) scale(0.090)"/>
<use href="#sh" transform="translate(1656.7 2245.6) rotate(0) scale(0.090)"/>
<use href="#sh" transform="translate(1725.8 2244) rotate(0) scale(0.090)"/>
<use href="#sh" transform="translate(2243.3 2294.8) rotate(0) scale(0.220)"/>
<use href="#sh" transform="translate(2243.3 2352.5) rotate(0) scale(0.220)"/>
<use href="#sh" transform="translate(2243.3 2416.6) rotate(0) scale(0.220)"/>
<use href="#tr" transform="translate(1056.4 2488.4) rotate(0) scale(1.034)"/>
<use href="#tr" transform="translate(1124 2675.1) rotate(0) scale(0.742)"/>
<use href="#tr" transform="translate(1014 2787.6) rotate(0) scale(0.755)"/>
<use href="#tr" transform="translate(1166.2 2866) rotate(0) scale(0.474)"/>
<use href="#tr" transform="translate(1143.4 2968.3) rotate(0) scale(0.570)"/>
<use href="#tr" transform="translate(1015.3 3017.9) rotate(0) scale(0.746)"/>
<use href="#tr" transform="translate(2211.3 2852.5) rotate(0) scale(0.560)"/>
<use href="#tr" transform="translate(2212.9 3061) rotate(0) scale(0.556)"/>
<use href="#tr" transform="translate(1983.1 3185) rotate(0) scale(0.743)"/>
<use href="#tr" transform="translate(2148.2 3185) rotate(0) scale(0.743)"/>
</g>
<g id="misc">
<path d="M698.7,2758.2 L646.5,2769.1 L635,2821.9 Z" fill="#0d1033" stroke="none"/>
<path transform="translate(600 2720) scale(0.13556)" d="M605,650 L790,650 L1135,1075 L1135,735 Q1135,700 1100,695 L1040,692 L1040,650 L1275,650 L1275,692 L1225,695 Q1195,700 1195,735 L1195,1283 L1135,1283 L760,810 L760,1200 Q760,1235 795,1238 L845,1240 L845,1283 L605,1283 L605,1240 L655,1238 Q690,1235 690,1200 L690,735 Q690,700 655,695 L605,692 Z" fill="#0d1033" stroke="none"/>
<rect x="152.4" y="2996.8" width="690.4" height="254.6" stroke-width="4.4" fill="#fff"/>
<line x1="152.4" y1="3061.6" x2="842.8" y2="3061.6" stroke-width="4.4"/>
<line x1="152.4" y1="3123.6" x2="842.8" y2="3123.6" stroke-width="4.4"/>
<line x1="152.4" y1="3187" x2="842.8" y2="3187" stroke-width="4.4"/>
<line x1="486.5" y1="2996.8" x2="486.5" y2="3251.4" stroke-width="4.4"/>
<line x1="642.6" y1="2996.8" x2="642.6" y2="3251.4" stroke-width="4.4"/>
<text transform="translate(168.6 3042.9) scale(0.965 1)" font-size="37.3" font-weight="bold" style="fill:#1c1c1c;stroke:#1c1c1c;stroke-width:0.52px">LEGEND</text>
<text transform="translate(564.5 3042.9) scale(0.965 1)" font-size="37.3" text-anchor="middle" font-weight="bold" style="fill:#1c1c1c;stroke:#1c1c1c;stroke-width:0.52px">M<tspan font-size="21" dy="-13">2</tspan></text>
<text transform="translate(742.4 3042.9) scale(0.965 1)" font-size="37.3" text-anchor="middle" font-weight="bold" style="fill:#1c1c1c;stroke:#1c1c1c;stroke-width:0.52px">SQUARES</text>
<text transform="translate(168.6 3103.6) scale(0.94 1)" font-size="38" style="fill:#1c1c1c;stroke:#1c1c1c;stroke-width:0.53px">INTERNAL AREA</text>
<text transform="translate(562 3103.6) scale(0.94 1)" font-size="38" text-anchor="middle" style="fill:#1c1c1c;stroke:#1c1c1c;stroke-width:0.53px">179</text>
<text transform="translate(740 3103.6) scale(0.94 1)" font-size="38" text-anchor="middle" style="fill:#1c1c1c;stroke:#1c1c1c;stroke-width:0.53px">19.3</text>
<text transform="translate(168.6 3166) scale(0.94 1)" font-size="38" style="fill:#1c1c1c;stroke:#1c1c1c;stroke-width:0.53px">GARAGE</text>
<text transform="translate(562 3166) scale(0.94 1)" font-size="38" text-anchor="middle" style="fill:#1c1c1c;stroke:#1c1c1c;stroke-width:0.53px">30</text>
<text transform="translate(740 3166) scale(0.94 1)" font-size="38" text-anchor="middle" style="fill:#1c1c1c;stroke:#1c1c1c;stroke-width:0.53px">3.2</text>
<text transform="translate(168.6 3228.5) scale(0.94 1)" font-size="38" style="fill:#1c1c1c;stroke:#1c1c1c;stroke-width:0.53px">LAND SIZE</text>
<text transform="translate(562 3228.5) scale(0.94 1)" font-size="38" text-anchor="middle" style="fill:#1c1c1c;stroke:#1c1c1c;stroke-width:0.53px">528</text>
<text transform="translate(740 3228.5) scale(0.94 1)" font-size="38" text-anchor="middle" style="fill:#1c1c1c;stroke:#1c1c1c;stroke-width:0.53px">56.8</text>
<text x="118.6" y="3353" font-size="34" textLength="2244" lengthAdjust="spacingAndGlyphs" style="fill:#1c1c1c;stroke:#1c1c1c;stroke-width:0.60px">Disclaimer: All dimensions and areas stated are approximate only and should not be taken as a definite. In order to satisfy yourself of the exact dimensions</text>
<text x="118.6" y="3386" font-size="34" textLength="2244" lengthAdjust="spacingAndGlyphs" style="fill:#1c1c1c;stroke:#1c1c1c;stroke-width:0.60px">of the property, land, or each room, we advise you to conduct your own measurements and/or engage the services of a licensed surveyor. Responsibility</text>
<text x="1239.5" y="3419" font-size="34" text-anchor="middle" textLength="953" lengthAdjust="spacingAndGlyphs" style="fill:#1c1c1c;stroke:#1c1c1c;stroke-width:0.60px">for any omissions or errors contained herein is expressly denied.</text>
<path d="M2220,3473 V3455 L2228,3453.5 L2237.5,3466 V3473 Z" fill="#f1f0ec" stroke="none"/>
<text x="2244.4" y="3472.7" font-size="19" textLength="142" lengthAdjust="spacingAndGlyphs" style="fill:#f1f0ec;stroke:#f1f0ec;stroke-width:0.30px">BARRYPLANT</text>
</g>
</g>
</svg>
</body></html>
